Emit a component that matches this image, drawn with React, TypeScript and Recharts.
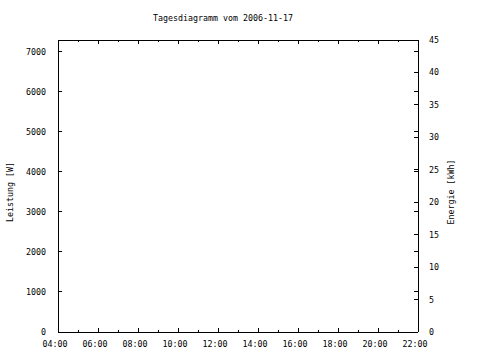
import React from 'react';
import { LineChart, Line, XAxis, YAxis, Customized } from 'recharts';

const hours = [4, 5, 6, 7, 8, 9, 10, 11, 12, 13, 14, 15, 16, 17, 18, 19, 20, 21, 22];
const hourLabels = ['04:00', '05:00', '06:00', '07:00', '08:00', '09:00', '10:00', '11:00', '12:00', '13:00', '14:00', '15:00', '16:00', '17:00', '18:00', '19:00', '20:00', '21:00', '22:00'];
const leistung: (number | null)[] = [null, null, null, null, null, null, null, null, null, null, null, null, null, null, null, null, null, null, null];
const energie: (number | null)[] = [null, null, null, null, null, null, null, null, null, null, null, null, null, null, null, null, null, null, null];
const leistungTicks = [0, 1000, 2000, 3000, 4000, 5000, 6000, 7000];
const energieTicks = [0, 5, 10, 15, 20, 25, 30, 35, 40, 45];
const LEISTUNG_MAX = 7290;
const ENERGIE_MAX = 45;

const data = hours.map((h, i) => ({ h, w: leistung[i], e: energie[i] }));

const W = 480;
const H = 360;
const PL = 58;
const PR = 418;
const PT = 40;
const PB = 332;
const FONT = 'DejaVu Sans Mono';
const FS = 8.3;

const XTick = (props: any) => {
  const { x, payload } = props;
  const v = payload.value as number;
  const major = v % 2 === 0;
  const len = major ? 4 : 2;
  const idx = hours.indexOf(v);
  return (
    <g>
      <line x1={x} x2={x} y1={PB} y2={PB - len} stroke="#000" strokeWidth={1} shapeRendering="crispEdges" />
      <line x1={x} x2={x} y1={PT} y2={PT + len} stroke="#000" strokeWidth={1} shapeRendering="crispEdges" />
      {major && (
        <text x={x - 3} y={344} textAnchor="middle" dominantBaseline="central" fontFamily={FONT} fontSize={FS} fill="#000">
          {hourLabels[idx]}
        </text>
      )}
    </g>
  );
};

const YLeftTick = (props: any) => {
  const { y, payload } = props;
  return (
    <g>
      <line x1={PL} x2={PL + 4} y1={y} y2={y} stroke="#000" strokeWidth={1} shapeRendering="crispEdges" />
      <line x1={PR - 4} x2={PR} y1={y} y2={y} stroke="#000" strokeWidth={1} shapeRendering="crispEdges" />
      <text x={46} y={y} textAnchor="end" dominantBaseline="central" fontFamily={FONT} fontSize={FS} fill="#000">
        {payload.value}
      </text>
    </g>
  );
};

const YRightTick = (props: any) => {
  const { y, payload } = props;
  return (
    <g>
      <line x1={PR - 4} x2={PR} y1={y} y2={y} stroke="#000" strokeWidth={1} shapeRendering="crispEdges" />
      <text x={429} y={y} textAnchor="start" dominantBaseline="central" fontFamily={FONT} fontSize={FS} fill="#000">
        {payload.value}
      </text>
    </g>
  );
};

const Texts = () => (
  <g>
    <text x={223} y={18} textAnchor="middle" dominantBaseline="central" fontFamily={FONT} fontSize={FS} fill="#000">
      Tagesdiagramm vom 2006-11-17
    </text>
    <text x={10} y={192} textAnchor="middle" dominantBaseline="central" fontFamily={FONT} fontSize={FS} fill="#000" transform="rotate(-90 10 192)">
      Leistung [W]
    </text>
    <text x={451} y={192} textAnchor="middle" dominantBaseline="central" fontFamily={FONT} fontSize={FS} fill="#000" transform="rotate(-90 451 192)">
      Energie [kWh]
    </text>
  </g>
);

export default function App() {
  return (
    <div style={{ position: 'absolute', left: 0, top: 0, width: W, height: H, background: '#fff' }}>
      <LineChart width={W} height={H} data={data} margin={{ top: PT - 1, right: 0, bottom: 0, left: 0 }}>
        <XAxis
          xAxisId="b"
          dataKey="h"
          type="number"
          domain={[4, 22]}
          allowDataOverflow
          ticks={hours}
          interval={0}
          height={H - PB}
          tickLine={false}
          axisLine={{ stroke: '#000', shapeRendering: 'crispEdges' }}
          tick={<XTick />}
        />
        <XAxis
          xAxisId="t"
          dataKey="h"
          type="number"
          domain={[4, 22]}
          allowDataOverflow
          orientation="top"
          height={1}
          ticks={hours}
          tick={false}
          tickLine={false}
          axisLine={{ stroke: '#000', shapeRendering: 'crispEdges' }}
        />
        <YAxis
          yAxisId="l"
          orientation="left"
          type="number"
          width={PL}
          domain={[0, LEISTUNG_MAX]}
          allowDataOverflow
          ticks={leistungTicks}
          interval={0}
          tickLine={false}
          axisLine={{ stroke: '#000', shapeRendering: 'crispEdges' }}
          tick={<YLeftTick />}
        />
        <YAxis
          yAxisId="r"
          orientation="right"
          type="number"
          width={W - PR}
          domain={[0, ENERGIE_MAX]}
          allowDataOverflow
          ticks={energieTicks}
          interval={0}
          tickLine={false}
          axisLine={{ stroke: '#000', shapeRendering: 'crispEdges' }}
          tick={<YRightTick />}
        />
        <Line xAxisId="b" yAxisId="l" dataKey="w" stroke="#ff0000" dot={false} isAnimationActive={false} connectNulls={false} />
        <Line xAxisId="t" yAxisId="r" dataKey="e" stroke="#00c000" dot={false} isAnimationActive={false} connectNulls={false} />
        <Customized component={Texts} />
      </LineChart>
    </div>
  );
}
